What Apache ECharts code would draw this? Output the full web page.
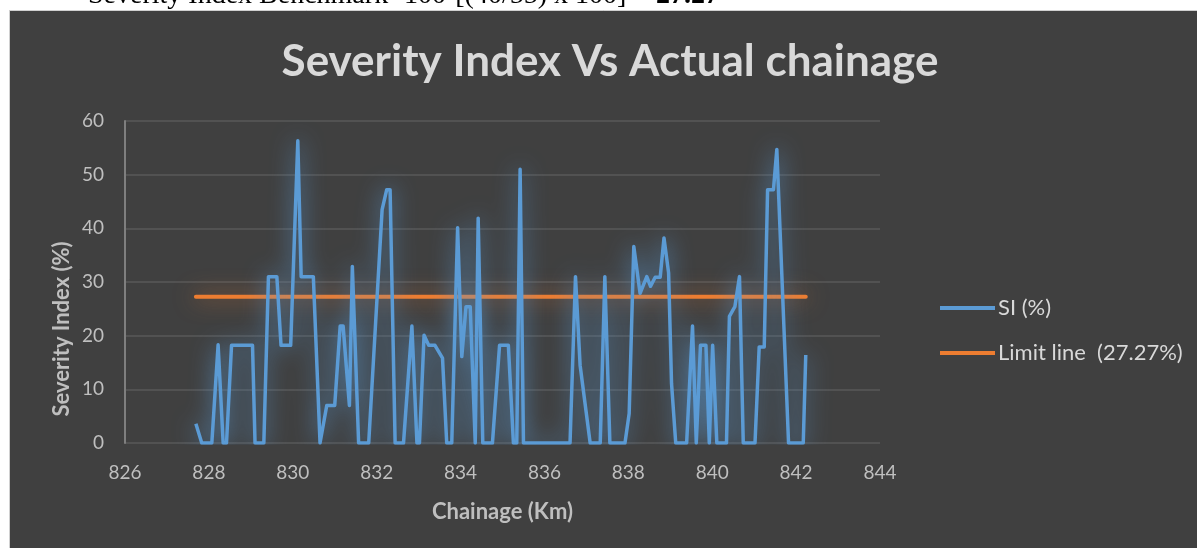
<!DOCTYPE html>
<html>
<head>
<meta charset="utf-8">
<script src="https://cdn.jsdelivr.net/npm/echarts@6/dist/echarts.min.js"></script>
<style>
  html, body { margin: 0; padding: 0; background: #fff; }
  #chart { width: 1197px; height: 548px; }
</style>
</head>
<body>
<div id="chart"></div>
<script>
// chainage (km) and severity index (%)
const chainage = [
  827.69, 827.83, 828.07, 828.22, 828.34, 828.42, 828.54, 829.04, 829.10, 829.31,
  829.42, 829.62, 829.72, 829.95, 830.12, 830.20, 830.49, 830.65, 830.81, 831.00,
  831.13, 831.20, 831.35, 831.42, 831.57, 831.81, 832.13, 832.24, 832.32, 832.44,
  832.64, 832.84, 832.96, 833.02, 833.13, 833.24, 833.39, 833.57, 833.67, 833.79,
  833.93, 834.03, 834.13, 834.23, 834.35, 834.42, 834.53, 834.76, 834.93, 835.14,
  835.26, 835.34, 835.42, 835.50, 836.61, 836.74, 836.85, 837.09, 837.33, 837.44,
  837.56, 837.92, 838.02, 838.13, 838.28, 838.44, 838.53, 838.64, 838.76, 838.85,
  838.96, 839.03, 839.13, 839.39, 839.53, 839.62, 839.72, 839.85, 839.93, 840.01,
  840.11, 840.34, 840.41, 840.54, 840.65, 840.74, 841.02, 841.12, 841.24, 841.32,
  841.46, 841.54, 841.82, 842.17, 842.23
];
const siValues = [
  3.6, 0, 0, 18.3, 0, 0, 18.2, 18.2, 0, 0,
  31, 31, 18.2, 18.2, 56.3, 31, 31, 0, 7, 7,
  21.8, 21.8, 7, 32.9, 0, 0, 43.5, 47.2, 47.2, 0,
  0, 21.8, 0, 0, 20.1, 18.2, 18.2, 15.8, 0, 0,
  40.1, 16.1, 25.4, 25.4, 0, 41.9, 0, 0, 18.2, 18.2,
  0, 0, 51.0, 0, 0, 31, 14.5, 0, 0, 31,
  0, 0, 5.5, 36.6, 27.9, 31, 29.2, 30.9, 30.9, 38.2,
  31.7, 11.1, 0, 0, 21.8, 0, 18.2, 18.2, 0, 18.2,
  0, 0, 23.6, 25.4, 31, 0, 0, 17.9, 17.9, 47.2,
  47.2, 54.7, 0, 0, 16.4
];
const limitValue = 27.27;
const limitRange = [827.69, 842.23];
const xTicks = [826, 828, 830, 832, 834, 836, 838, 840, 842, 844];
const yTicks = [0, 10, 20, 30, 40, 50, 60];

const FONT = 'Lato, "Open Sans", sans-serif';

const siData = chainage.map((c, i) => [c, siValues[i]]);
const limitData = limitRange.map(c => [c, limitValue]);

const myChart = echarts.init(document.getElementById('chart'));
const option = {
  backgroundColor: '#ffffff',
  animation: false,
  graphic: [
    {type: 'rect', z: -10, shape: {x: 9.5, y: 10.5, width: 1200, height: 560},
      style: {fill: '#404040', stroke: '#d0d0d0', lineWidth: 1}},
    // caption of the page above the chart, mostly cut off
    {type: 'text', x: 88, y: 10, z: -20,
      style: {text: 'Severity Index Benchmark=100-[(40/55) x 100] = {b|27.27}', fill: '#000',
        font: '28px "Liberation Serif", serif', verticalAlign: 'bottom',
        rich: {b: {fontWeight: 'bold', fontSize: 28, fontFamily: '"Liberation Serif", serif'}}}},
    {type: 'text', x: 610, y: 62, z: 5,
      style: {text: 'Severity Index Vs Actual chainage', fill: '#d9d9d9',
        font: 'bold 44px ' + FONT, align: 'center', verticalAlign: 'middle'}},
    {type: 'text', x: 62, y: 329, rotation: Math.PI / 2, z: 5,
      style: {text: 'Severity Index (%)', fill: '#bfbfbf',
        font: 'bold 22px ' + FONT, align: 'center', verticalAlign: 'middle'}}
  ],
  legend: {
    orient: 'vertical', left: 935, top: 292,
    icon: 'rect', itemWidth: 55, itemHeight: 4, itemGap: 23,
    textStyle: {color: '#d9d9d9', fontSize: 22, lineHeight: 22, fontFamily: FONT, padding: [0, 0, 0, -2]},
    data: ['SI (%)', 'Limit line  (27.27%)']
  },
  grid: {left: 125, right: 317, top: 121, bottom: 105},
  xAxis: {
    type: 'value', min: 826, max: 844, interval: 2,
    name: 'Chainage (Km)', nameLocation: 'middle', nameGap: 58,
    nameTextStyle: {color: '#bfbfbf', fontSize: 22, fontWeight: 'bold', fontFamily: FONT},
    axisLine: {show: false},
    axisTick: {show: false},
    axisLabel: {color: '#bfbfbf', fontSize: 19, fontFamily: FONT, margin: 20,
      customValues: xTicks},
    splitLine: {show: false}
  },
  yAxis: {
    type: 'value', min: 0, max: 60, interval: 10,
    axisLine: {show: true, lineStyle: {color: '#7f7f7f', width: 2}},
    axisTick: {show: false},
    axisLabel: {color: '#bfbfbf', fontSize: 19, fontFamily: FONT, margin: 21,
      customValues: yTicks},
    splitLine: {lineStyle: {color: '#595959', width: 1.5}}
  },
  series: [
    {
      name: 'SI (%)', type: 'line', data: siData,
      showSymbol: false, symbol: 'none', z: 3,
      itemStyle: {color: '#5b9bd5'},
      lineStyle: {color: '#5b9bd5', width: 3.5, join: 'round',
        shadowColor: 'rgba(91,155,213,0.9)', shadowBlur: 22}
    },
    {
      name: 'Limit line  (27.27%)', type: 'line', data: limitData,
      showSymbol: false, symbol: 'none', z: 2,
      itemStyle: {color: '#ed7d31'},
      lineStyle: {color: '#ed7d31', width: 4, cap: 'round',
        shadowColor: 'rgba(237,125,49,0.75)', shadowBlur: 22}
    }
  ]
};
myChart.setOption(option);
</script>
</body>
</html>
